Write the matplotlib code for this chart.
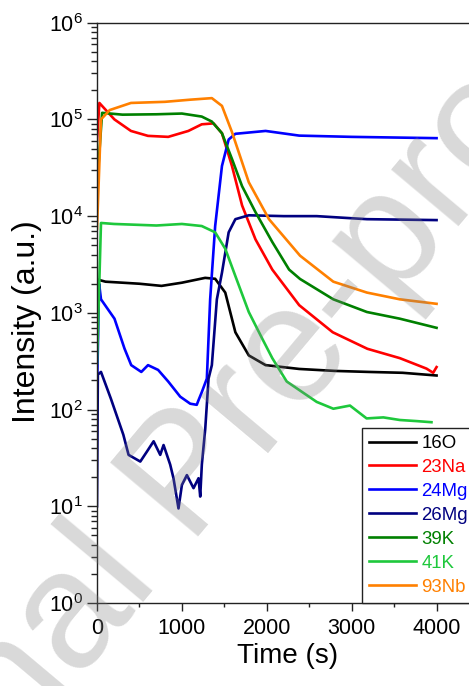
import matplotlib
matplotlib.use("Agg")
import matplotlib.pyplot as plt
from matplotlib.ticker import LogLocator, MultipleLocator, LogFormatterSciNotation, NullFormatter

plt.rcParams['font.family'] = ['Liberation Sans', 'DejaVu Sans']
plt.rcParams['mathtext.default'] = 'regular'

# ---- data ----
t_O16 = [0, 15, 100, 300, 500, 760, 1000, 1274, 1392, 1511, 1630, 1788, 1986, 2382, 2800, 3200, 3600, 4000]
v_O16 = [1200, 2200, 2100, 2050, 2000, 1900, 2050, 2300, 2250, 1620, 630, 363, 288, 263, 251, 245, 240, 225]

t_Na23 = [0, 28, 205, 400, 600, 839, 1076, 1234, 1373, 1472, 1590, 1709, 1867, 2065, 2382, 2777, 3185, 3568, 3882, 3960, 4000]
v_Na23 = [60000, 148000, 100000, 76000, 67600, 66000, 76000, 89000, 91000, 72000, 33000, 12900, 5750, 2800, 1200, 630, 425, 340, 265, 240, 275]

t_Mg24 = [0, 25, 47, 206, 324, 403, 522, 601, 720, 839, 980, 1098, 1175, 1196, 1234, 1294, 1333, 1392, 1472, 1551, 1630, 1986, 2382, 3000, 4000]
v_Mg24 = [150, 2000, 1380, 870, 427, 288, 245, 288, 257, 195, 136, 115, 112, 125, 151, 209, 1380, 7900, 33000, 62000, 71000, 76000, 68000, 66000, 64000]

t_Mg26 = [0, 10, 47, 163, 310, 372, 510, 590, 667, 745, 784, 862, 901, 960, 1000, 1059, 1137, 1196, 1216, 1235, 1275, 1314, 1353, 1412, 1472, 1551, 1630, 1788, 2200, 2588, 3180, 3600, 4000]
v_Mg26 = [10, 230, 245, 130, 55, 34, 29, 37, 47, 34, 43, 27, 19.5, 9.5, 16.6, 21, 15.4, 19.5, 12.6, 27, 63, 209, 288, 1380, 2600, 6800, 9300, 10200, 10000, 10000, 9300, 9200, 9100]

t_K39 = [0, 60, 300, 700, 1000, 1234, 1353, 1472, 1590, 1709, 1867, 2065, 2263, 2392, 2784, 3180, 3568, 4000]
v_K39 = [20000, 117000, 112000, 113000, 115000, 107000, 95000, 72000, 39000, 20400, 11000, 5400, 2800, 2240, 1380, 1020, 870, 700]

t_K41 = [0, 47, 200, 700, 1000, 1234, 1392, 1511, 1630, 1788, 1947, 2065, 2235, 2588, 2784, 2980, 3176, 3373, 3568, 3764, 3940]
v_K41 = [300, 8500, 8300, 8000, 8300, 7900, 6800, 4600, 2400, 1020, 540, 340, 195, 120, 102, 110, 81, 83, 78, 76, 74]

t_Nb93 = [0, 47, 150, 400, 800, 1100, 1353, 1472, 1590, 1788, 2026, 2392, 2784, 3180, 3568, 4000]
v_Nb93 = [7400, 100000, 125000, 148000, 152000, 160000, 166000, 138000, 74000, 22400, 9300, 3900, 2100, 1620, 1380, 1240]

labels = ['16O', '23Na', '24Mg', '26Mg', '39K', '41K', '93Nb']
colors = ['#000000', '#ff0000', '#0000ff', '#000080', '#008000', '#1ec83c', '#ff8000']
series = [(t_O16, v_O16), (t_Na23, v_Na23), (t_Mg24, v_Mg24), (t_Mg26, v_Mg26),
          (t_K39, v_K39), (t_K41, v_K41), (t_Nb93, v_Nb93)]

x_major = 1000
x_minor = 500

W, H = 469, 686
fig = plt.figure(figsize=(W / 100, H / 100), dpi=100)
ax = fig.add_axes([97 / W, 83 / H, (479 - 97) / W, (603 - 22.7) / H])

for (t, v), lab, c in zip(series, labels, colors):
    ax.plot(t, v, color=c, lw=1.9, label=lab)

ax.set_yscale('log')
ax.set_ylim(1, 1e6)
ax.set_xlim(0, 4500)
ax.xaxis.set_major_locator(MultipleLocator(x_major))
ax.xaxis.set_minor_locator(MultipleLocator(x_minor))
ax.yaxis.set_major_locator(LogLocator(base=10, numticks=10))
ax.yaxis.set_minor_locator(LogLocator(base=10, subs=range(2, 10), numticks=20))
ax.yaxis.set_major_formatter(LogFormatterSciNotation())
ax.yaxis.set_minor_formatter(NullFormatter())

for s in ax.spines.values():
    s.set_linewidth(1.0)
    s.set_color('#222222')
ax.tick_params(axis='both', which='both', direction='out', top=False, right=False, width=1.0, color='#222222')
ax.tick_params(axis='y', which='major', length=7, labelsize=15.5, pad=3)
ax.tick_params(axis='y', which='minor', length=4)
ax.tick_params(axis='x', which='major', length=6, labelsize=15.5, pad=5)
ax.tick_params(axis='x', which='minor', length=3)

ax.set_xlabel('Time (s)', fontsize=20, labelpad=3)
ax.set_ylabel('Intensity (a.u.)', fontsize=23)
ax.yaxis.set_label_coords(42 / W, 1 - 322 / H, transform=fig.transFigure)

leg = ax.legend(loc='lower left', bbox_to_anchor=(362 / W, 83 / H), bbox_transform=fig.transFigure,
                fontsize=13.4, frameon=True, fancybox=False, edgecolor='#222222', framealpha=1,
                borderaxespad=0, borderpad=0.4, handlelength=2.5, handletextpad=0.3,
                labelspacing=0.37, labelcolor='linecolor')
leg.get_frame().set_linewidth(1.0)

fig.text(190 / W, 1 - 480 / H, 'Journal Pre-proof', rotation=50, fontsize=120, color='gray',
         alpha=0.3, ha='center', va='center', rotation_mode='anchor', zorder=20)

fig.savefig('out.png', dpi=100)
